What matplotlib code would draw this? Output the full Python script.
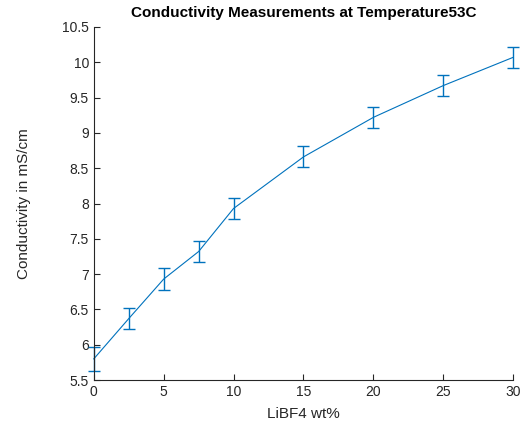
import numpy as np
import matplotlib.pyplot as plt

plt.rcParams['font.family'] = ['Liberation Sans', 'DejaVu Sans']

wt = [0, 2.5, 5, 7.5, 10, 15, 20, 25, 30]
conductividad = [5.8, 6.37, 6.93, 7.32, 7.93, 8.66, 9.22, 9.67, 10.07]
error = [0.17, 0.15, 0.15, 0.15, 0.15, 0.15, 0.15, 0.15, 0.15]

azul = '#0072BD'
gris = '#262626'

fig = plt.figure(figsize=(5.21, 4.28), dpi=100)
ax = fig.add_axes([0.180, 0.112, 0.805, 0.825])

lineas = ax.errorbar(wt, conductividad, yerr=error, color=azul, linewidth=0.8,
                     elinewidth=1.0, capsize=4, capthick=1.0)
for artista in lineas.lines[1] + lineas.lines[2] + (lineas.lines[0],):
    artista.set_clip_on(False)

ax.set_xlim(0, 30)
ax.set_ylim(5.5, 10.5)
ax.set_xticks([0, 5, 10, 15, 20, 25, 30])
ax.set_yticks(np.arange(5.5, 10.51, 0.5))
ax.set_yticklabels(['5.5', '6', '6.5', '7', '7.5', '8', '8.5', '9', '9.5', '10', '10.5'])

for lado in ['top', 'right']:
    ax.spines[lado].set_visible(False)
for lado in ['left', 'bottom']:
    ax.spines[lado].set_color(gris)
    ax.spines[lado].set_linewidth(0.8)
ax.tick_params(direction='in', length=4, width=0.8, colors=gris, labelsize=10,
               labelcolor=gris)

ax.set_xlabel('LiBF4 wt%', fontsize=11, color=gris, labelpad=6)
ax.set_ylabel('Conductivity in mS/cm', fontsize=11, color=gris, labelpad=22)
ax.set_title('Conductivity Measurements at Temperature53C', fontsize=11,
             fontweight='bold', pad=7)

fig.savefig('out.png', dpi=100)
